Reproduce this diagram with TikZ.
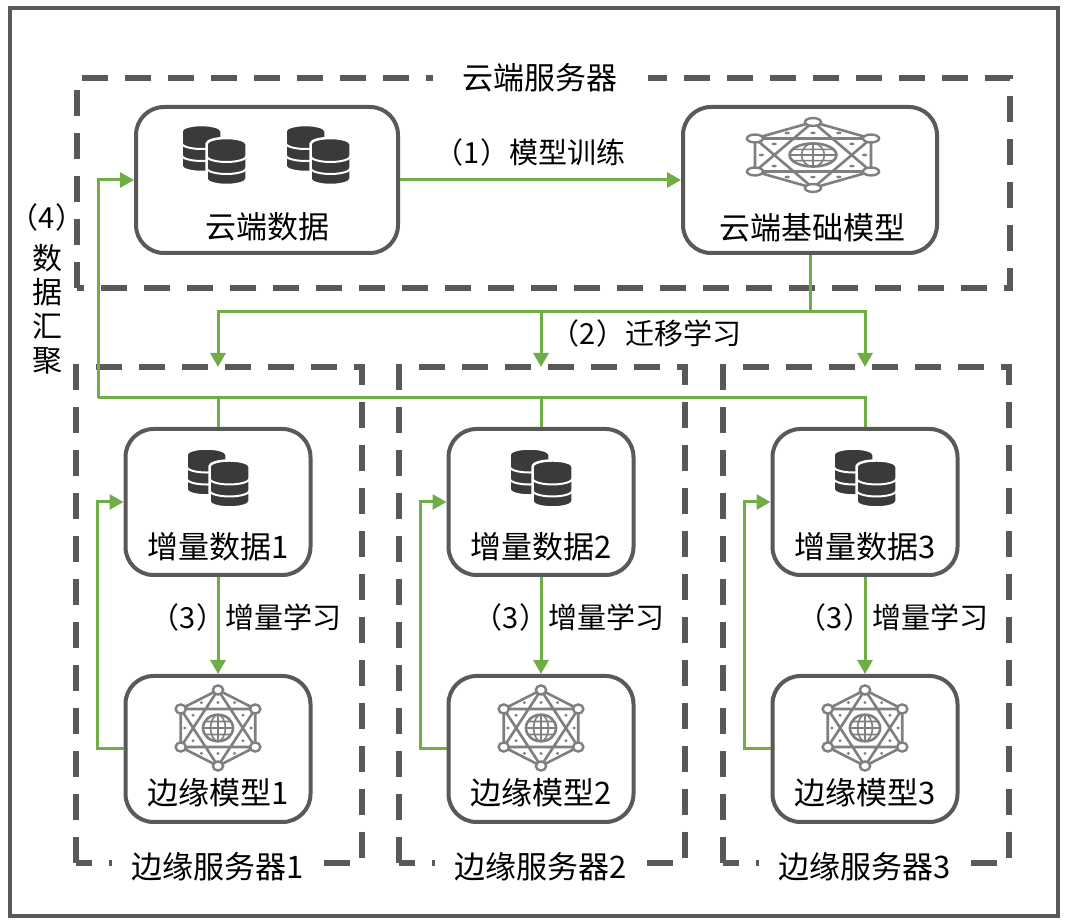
\documentclass[tikz,border=0pt]{standalone}
\usepackage{fontspec}
\setmainfont{Noto Sans CJK SC}
\usetikzlibrary{arrows.meta}

\definecolor{frame}{HTML}{595959}
\definecolor{leaf}{HTML}{70AD47}
\definecolor{dbgray}{HTML}{3A3A3A}
\definecolor{netgray}{HTML}{7F7F7F}

\tikzset{
  pics/cyl/.style={code={
    \fill[dbgray,draw=white,line width=2.5pt] (-20,17.5) -- (-20,-17.5)
      arc[start angle=180,end angle=360,x radius=20,y radius=6] -- (20,17.5)
      arc[start angle=0,end angle=180,x radius=20,y radius=6] -- cycle;
    \foreach \h in {5.5,-6.5}
      \draw[white,line width=2pt] (-20,\h) arc[start angle=180,end angle=360,x radius=20,y radius=6];
  }},
  pics/db/.style={code={
    \pic at (-12.5,6.5) {cyl};
    \pic at (12.5,-6.5) {cyl};
  }},
  pics/net/.style={code={
    \draw[netgray,line width=2.6pt] (90:1) -- (30:1) -- (-30:1) -- (-90:1) -- (-150:1) -- (150:1) -- cycle
      (90:1) -- (-30:1) -- (-150:1) -- cycle
      (-90:1) -- (30:1) -- (150:1) -- cycle;
    \foreach \a in {90,30,-30,-90,-150,150} {
      \filldraw[fill=white,draw=netgray,line width=2.4pt] (\a:1) circle[radius=0.12];
      \fill[netgray] (\a:0.67) circle[radius=0.04];
    }
    \foreach \a in {0,60,...,300}
      \fill[netgray] (\a:0.77) circle[radius=0.04];
    \filldraw[fill=white,draw=netgray,line width=2.6pt] (0,0) circle[radius=0.35];
    \draw[netgray,line width=1.6pt] (-0.35,0) -- (0.35,0) (0,-0.35) -- (0,0.35)
      (0,0) ellipse[x radius=0.17,y radius=0.35]
      (-0.31,0.17) -- (0.31,0.17) (-0.31,-0.17) -- (0.31,-0.17);
  }}
}

\begin{document}
\begin{tikzpicture}[x=1pt,y=1pt]
\tikzstyle{box}=[draw=frame,fill=white,line width=4pt,rounded corners=28pt,minimum width=185pt,minimum height=146pt]
\tikzstyle{server}=[draw=frame,line width=5.5pt,dash pattern=on 26pt off 17pt]
\tikzstyle{wire}=[draw=leaf,line width=3pt]
\tikzstyle{flow}=[wire,-{Triangle[length=14pt,width=15pt]}]
\tikzstyle{boxtext}=[font=\fontsize{31}{36}\selectfont,inner sep=1pt]
\tikzstyle{tag}=[font=\fontsize{29}{34}\selectfont,inner sep=1pt]

\useasboundingbox (0,0) rectangle (1069,924);
\draw[frame,line width=4pt] (10,8) rectangle (1058,916);

% cloud server
\draw[server] (77,636) rectangle (1010,846);
\node[boxtext,fill=white,inner xsep=30pt] (cloud) at (540,846) {云端服务器};
\node[box,minimum width=262pt] (cdata) at (267,744) {};
\node[box,minimum width=254pt] (cmodel) at (810,744) {};
\pic at (214,769) {db};
\pic at (318,769) {db};
\pic[xscale=67,yscale=33] at (813,769) {net};
\node[boxtext] (cdatatxt) at (267,697) {云端数据};
\node[boxtext] (cmodeltxt) at (812,696) {云端基础模型};
\draw[flow] (cdata.east) -- (cmodel.west);
\node[tag] (t1) at (530,772) {（1）模型训练};

% edge servers
\foreach \i/\x in {1/218,2/541,3/865} {
  \draw[server] (\x-142,61) rectangle (\x+144,557);
  \node[boxtext,fill=white,inner xsep=20pt] (srv\i) at (\x,57) {边缘服务器\i};
  \node[box] (ed\i) at (\x,422) {};
  \node[box] (em\i) at (\x,175) {};
  \pic[scale=0.92] at (\x,446) {db};
  \pic[xscale=43,yscale=38] at (\x,196) {net};
  \node[boxtext] (edtxt\i) at (\x,377) {增量数据\i};
  \node[boxtext] (emtxt\i) at (\x,131) {边缘模型\i};
  \draw[flow] (ed\i.south) -- (em\i.north);
  \node[tag] (n3\i) at (\x-30,307) {（3）};
  \node[tag] (t3\i) at (\x+65,307) {增量学习};
  \draw[flow] (em\i.west) -- ++(-26,0) |- (ed\i.west);
  \coordinate (s\i) at (\x,557);
}

% transfer
\coordinate (fork) at (cmodel.south |- 0,612);
\draw[wire] (cmodel.south) -- (fork);
\draw[flow] (fork) -| (s1);
\draw[flow] (fork) -| (s2);
\draw[flow] (fork) -| (s3);
\node[tag] (t2) at (646,591) {（2）迁移学习};

% gathering
\coordinate (gather) at (98,526);
\draw[wire] (ed1.north) |- (gather);
\draw[wire] (ed3.north) |- (gather);
\draw[wire] (ed2.north) -- (ed2.north |- gather);
\draw[flow] (gather) |- (cdata.west);
\node[tag] (n4) at (47,707) {（4）};
\node[tag,align=center,font=\fontsize{30}{34}\selectfont] (t4) at (47,615) {数\\据\\汇\\聚};
\end{tikzpicture}
\end{document}
